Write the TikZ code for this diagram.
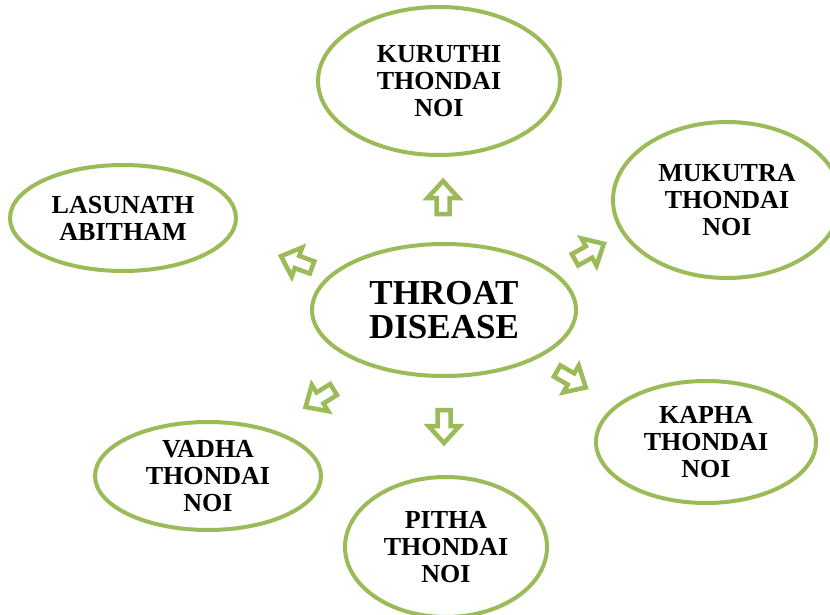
\documentclass[tikz,border=0pt]{standalone}
\usepackage{fontspec}
\setmainfont{Liberation Serif}
\usetikzlibrary{shapes.geometric}
\definecolor{olivegreen}{HTML}{9BBB59}
\tikzset{
  oval/.style={ellipse, draw=olivegreen, line width=4pt, fill=white, inner sep=0pt, align=center, text=black},
  smalltext/.style={font=\fontsize{26}{27}\selectfont\bfseries},
  bigtext/.style={font=\fontsize{35}{34}\selectfont\bfseries},
  arrowline/.style={draw=olivegreen, line width=4.5pt, fill=white, line join=miter},
  blockarrow/.pic={\draw[arrowline] (-16,-6.5) -- (0,-6.5) -- (0,-15.5) -- (17,0) -- (0,15.5) -- (0,6.5) -- (-16,6.5) -- cycle;}
}
\begin{document}
\begin{tikzpicture}[x=1pt,y=-1pt]
\fill[white] (0,0) rectangle (830,615);
\useasboundingbox (0,0) rectangle (830,615);

\node[oval, smalltext, minimum width=242pt, minimum height=148pt] (kuruthi) at (439,81) {KURUTHI\\THONDAI\\NOI};
\node[oval, smalltext, minimum width=228pt, minimum height=156pt] (mukutra) at (727,200) {MUKUTRA\\THONDAI\\NOI};
\node[oval, smalltext, minimum width=226pt, minimum height=106pt] (lasunath) at (123,218) {LASUNATH\\ABITHAM};
\node[oval, bigtext, minimum width=264pt, minimum height=132pt] (throat) at (444,310) {THROAT\\DISEASE};
\node[oval, smalltext, minimum width=220pt, minimum height=122pt] (kapha) at (706,442) {KAPHA\\THONDAI\\NOI};
\node[oval, smalltext, minimum width=226pt, minimum height=108pt] (vadha) at (208,476) {VADHA\\THONDAI\\NOI};
\node[oval, smalltext, minimum width=202pt, minimum height=140pt] (pitha) at (446,547) {PITHA\\THONDAI\\NOI};

\pic[rotate=90] (aup) at (443,198) {blockarrow};
\pic[rotate=160] (aul) at (297,262) {blockarrow};
\pic[rotate=29] (aur) at (589,252) {blockarrow};
\pic[rotate=-30] (alr) at (571,379) {blockarrow};
\pic[rotate=-90] (adn) at (444,426) {blockarrow};
\pic[rotate=212] (all) at (320,398) {blockarrow};
\end{tikzpicture}
\end{document}
